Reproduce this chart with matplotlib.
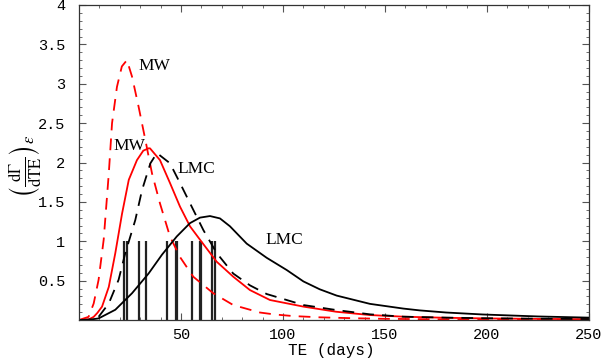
import matplotlib
matplotlib.use("Agg")
import matplotlib.pyplot as plt
from matplotlib.ticker import MultipleLocator

plt.rcParams["mathtext.fontset"] = "stix"

# --- data ---
mw_dashed_te = [0, 4.7, 7.2, 9.6, 12.1, 14.6, 16.2, 18.6, 21, 23.5, 26, 29.2, 32.5, 35.8, 39.7, 44.6, 49.5, 56, 65.8, 75.6, 88.7, 96, 105, 118, 135, 150, 175, 200, 225, 250]
mw_dashed_y = [0, 0.04, 0.21, 0.51, 1.02, 1.86, 2.50, 2.96, 3.22, 3.30, 3.09, 2.71, 2.29, 1.86, 1.48, 1.06, 0.80, 0.55, 0.34, 0.19, 0.095, 0.07, 0.05, 0.034, 0.022, 0.015, 0.009, 0.006, 0.004, 0.003]

mw_solid_te = [0, 5, 7.2, 9, 11.3, 14.6, 17.8, 21.1, 24.4, 28.4, 31.5, 34.1, 34.8, 39.7, 44.6, 49.5, 54.4, 59.3, 67.5, 75.6, 83.8, 93.6, 110, 126, 142.6, 159, 180, 200, 225, 250]
mw_solid_y = [0, 0.01, 0.04, 0.09, 0.17, 0.42, 0.85, 1.35, 1.78, 2.03, 2.15, 2.18, 2.18, 2.03, 1.74, 1.44, 1.19, 1.02, 0.74, 0.55, 0.38, 0.254, 0.17, 0.105, 0.063, 0.042, 0.028, 0.02, 0.014, 0.01]

lmc_dashed_te = [0, 5, 9.6, 14.6, 19.4, 22.7, 27.6, 30.9, 35, 38.2, 44.6, 49.5, 56, 61, 67.5, 75.6, 83.8, 92, 101.8, 110, 126, 142.6, 159, 180, 200, 225, 250]
lmc_dashed_y = [0, 0.005, 0.04, 0.21, 0.51, 0.85, 1.27, 1.65, 1.99, 2.12, 1.99, 1.74, 1.40, 1.14, 0.85, 0.59, 0.44, 0.33, 0.254, 0.19, 0.127, 0.072, 0.042, 0.03, 0.022, 0.016, 0.012]

lmc_solid_te = [0, 4, 9.6, 17.8, 26, 34.1, 40.7, 47.9, 54.4, 59.3, 64.2, 69.1, 74, 82.2, 92, 101.8, 110, 118, 126.3, 142.6, 159, 167, 180, 198, 225, 250]
lmc_solid_y = [0, 0, 0.02, 0.13, 0.34, 0.59, 0.83, 1.06, 1.23, 1.30, 1.32, 1.29, 1.19, 0.97, 0.79, 0.635, 0.49, 0.39, 0.31, 0.205, 0.145, 0.122, 0.095, 0.07, 0.045, 0.03]

event_te = [22.2, 23.4, 29.4, 32.7, 43.3, 47.4, 48.0, 55.5, 59.3, 59.95, 65.0, 66.7]
event_height = 1.0

x_ticks = [50, 100, 150, 200, 250]
y_ticks = [0.5, 1, 1.5, 2, 2.5, 3, 3.5, 4]

fig = plt.figure(figsize=(6.03, 3.59), dpi=100)
ax = fig.add_axes([79/603, 1 - 320/359, (589-79)/603, (320-5)/359])

lw = 1.3
dash = (6.5, 4.5)
ax.vlines(event_te, 0, event_height, colors="#222222", linewidth=1.6)
ax.plot(mw_dashed_te, mw_dashed_y, color="red", lw=lw, dashes=dash)
ax.plot(mw_solid_te, mw_solid_y, color="red", lw=lw)
ax.plot(lmc_dashed_te, lmc_dashed_y, color="black", lw=lw, dashes=dash)
ax.plot(lmc_solid_te, lmc_solid_y, color="black", lw=lw)

serif = "Liberation Serif"
fs = 12.5
ax.text(29.0, 3.22, "MW", family=serif, fontsize=fs, va="center", ha="left")
ax.text(17.0, 2.21, "MW", family=serif, fontsize=fs, va="center", ha="left")
ax.text(48.5, 1.92, "LMC", family=serif, fontsize=fs, va="center", ha="left")
ax.text(91.2, 1.02, "LMC", family=serif, fontsize=fs, va="center", ha="left")

ax.set_xlim(0, 250)
ax.set_ylim(0, 4)
ax.set_xticks(x_ticks)
ax.set_yticks(y_ticks)
ax.set_xticklabels([str(v) for v in x_ticks])
ax.set_yticklabels(["%g" % v for v in y_ticks])
ax.xaxis.set_minor_locator(MultipleLocator(10))
ax.yaxis.set_minor_locator(MultipleLocator(0.1))
ax.tick_params(which="both", direction="in", top=True, right=True, color="#555555")
ax.tick_params(which="major", length=5, width=0.8)
ax.tick_params(which="minor", length=2.5, width=0.6)
ax.tick_params(axis="x", which="major", pad=6)
ax.tick_params(axis="y", which="major", pad=10)
for lab in ax.get_xticklabels() + ax.get_yticklabels():
    lab.set_family("Liberation Mono")
    lab.set_fontsize(11)
for s in ax.spines.values():
    s.set_linewidth(0.9)
    s.set_color("#333333")

ax.set_xlabel("TE (days)", family="Liberation Mono", fontsize=11.5)
ax.xaxis.set_label_coords(0.494, -0.072)
ax.set_ylabel(r"$\left(\frac{\mathrm{d}\Gamma}{\mathrm{dTE}}\right)_{\epsilon}$", fontsize=17)
ax.yaxis.set_label_coords(-0.105, 0.49)
ax.yaxis.label.set_va("center")

fig.savefig("out.png", dpi=100)
